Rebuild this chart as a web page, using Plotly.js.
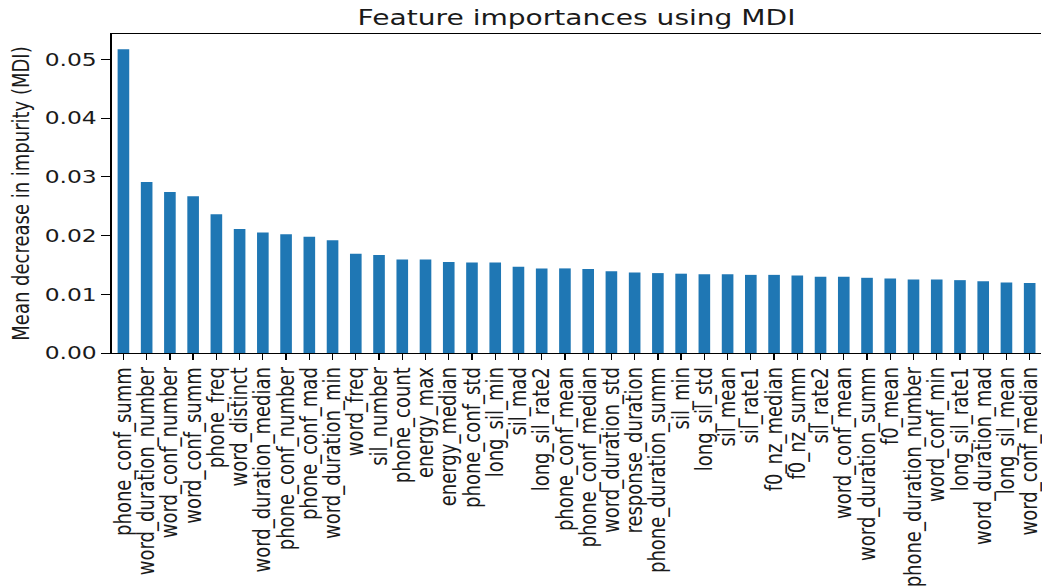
<!DOCTYPE html>
<html>
<head>
<meta charset="utf-8">
<script src="https://cdn.plot.ly/plotly-3.0.1.min.js"></script>
<style>
  html, body { margin: 0; padding: 0; overflow: hidden; background: #fff; width: 1042px; height: 587px; }
  #chart { width: 810px; height: 587px; transform: scaleX(1.3); transform-origin: 0 0; }
</style>
</head>
<body>
<div id="chart"></div>
<script>
const features = [
  "phone_conf_summ", "word_duration_number", "word_conf_number", "word_conf_summ",
  "phone_freq", "word_distinct", "word_duration_median", "phone_conf_number",
  "phone_conf_mad", "word_duration_min", "word_freq", "sil_number",
  "phone_count", "energy_max", "energy_median", "phone_conf_std",
  "long_sil_min", "sil_mad", "long_sil_rate2", "phone_conf_mean",
  "phone_conf_median", "word_duration_std", "response_duration", "phone_duration_summ",
  "sil_min", "long_sil_std", "sil_mean", "sil_rate1",
  "f0_nz_median", "f0_nz_summ", "sil_rate2", "word_conf_mean",
  "word_duration_summ", "f0_mean", "phone_duration_number", "word_conf_min",
  "long_sil_rate1", "word_duration_mad", "long_sil_mean", "word_conf_median"
];
const importances = [
  0.0517, 0.0291, 0.0274, 0.0267,
  0.0236, 0.0211, 0.0205, 0.0202,
  0.0198, 0.0192, 0.0169, 0.0167,
  0.0159, 0.0159, 0.0155, 0.0154,
  0.0154, 0.0147, 0.0144, 0.0144,
  0.0143, 0.0139, 0.0137, 0.0136,
  0.0135, 0.0134, 0.0134, 0.0133,
  0.0133, 0.0132, 0.0130, 0.0130,
  0.0128, 0.0127, 0.0125, 0.0125,
  0.0124, 0.0122, 0.0120, 0.0119
];
const titleText = "Feature importances using MDI";
const yTitleText = "Mean decrease in impurity (MDI)";

const idx = features.map((_, i) => i);

const trace = {
  type: "bar",
  x: idx,
  y: importances,
  width: 0.5,
  marker: { color: "#1f77b4", line: { width: 0 } },
  hoverinfo: "skip"
};

const font = { family: "DejaVu Sans", size: 18, color: "#1a1a1a" };

const layout = {
  width: 810,
  height: 587,
  margin: { l: 86, r: 8.8, t: 34, b: 234 },
  paper_bgcolor: "#fff",
  plot_bgcolor: "#fff",
  showlegend: false,
  font: font,
  title: {
    text: titleText,
    font: { family: "DejaVu Sans", size: 21.6, color: "#1a1a1a" },
    x: 0.5, xref: "paper", xanchor: "center",
    y: 1 - 17 / 587, yref: "container", yanchor: "middle"
  },
  xaxis: {
    range: [-0.5, 39.5],
    tickmode: "array",
    tickvals: idx,
    ticktext: features,
    tickangle: -90,
    ticks: "outside",
    ticklen: 6,
    tickwidth: 1,
    tickcolor: "#000",
    showline: true,
    linecolor: "#000",
    linewidth: 1,
    mirror: true,
    showgrid: false,
    zeroline: false,
    tickfont: font,
    automargin: false
  },
  yaxis: {
    range: [0, 0.0543],
    tickmode: "array",
    tickvals: [0, 0.01, 0.02, 0.03, 0.04, 0.05],
    ticktext: ["0.00", "0.01", "0.02", "0.03", "0.04", "0.05"],
    ticks: "outside",
    ticklen: 7,
    tickwidth: 1,
    tickcolor: "#000",
    showline: true,
    linecolor: "#000",
    linewidth: 1,
    mirror: false,
    showgrid: false,
    zeroline: false,
    tickfont: font,
    title: { text: yTitleText, font: font, standoff: 6 },
    automargin: false
  }
};

Plotly.newPlot("chart", [trace], layout, { displayModeBar: false, staticPlot: true });
</script>
</body>
</html>
